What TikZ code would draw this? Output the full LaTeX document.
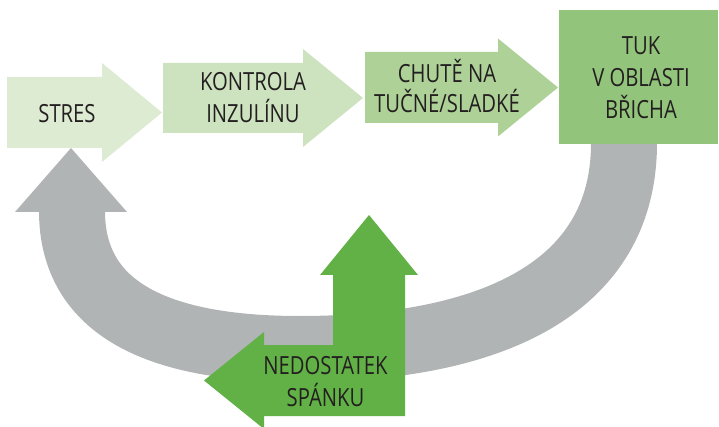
\documentclass[tikz,border=0pt]{standalone}
\usepackage{fontspec}
\setmainfont{Open Sans}[FakeStretch=0.81]
\definecolor{cStres}{HTML}{DEEBD3}
\definecolor{cKontrola}{HTML}{CDE3BF}
\definecolor{cChute}{HTML}{AED197}
\definecolor{cTuk}{HTML}{93C47B}
\definecolor{cSpanek}{HTML}{62B146}
\definecolor{cGray}{HTML}{B1B4B5}
\definecolor{cText}{HTML}{231F20}
\begin{document}
\begin{tikzpicture}[x=1pt,y=-1pt,
  lbl/.style={font=\fontsize{25}{32}\selectfont, align=center, inner sep=0pt, text=cText},
  band/.style={draw=cGray, line width=66pt, line cap=butt}]
\useasboundingbox (0,0) rectangle (719,427);
% grey return arrow
\draw[band] (624,143) .. controls (624,300) and (470,349) .. (300,349)
            .. controls (160,349) and (72,310) .. (72,211);
\fill[cGray] (15,212) -- (71,148) -- (127,212) -- cycle;
% block arrows
\fill[cStres] (7,77) -- (102,77) -- (102,63) -- (162,112.5) -- (102,162) -- (102,148) -- (7,148) -- cycle;
\fill[cKontrola] (163,63) -- (303,63) -- (303,49) -- (363,98) -- (303,147) -- (303,133) -- (163,133) -- cycle;
\fill[cChute] (365,52) -- (498,52) -- (498,38.5) -- (558,87.5) -- (498,136.5) -- (498,123) -- (365,123) -- cycle;
\fill[cTuk] (559,10) rectangle (718,144);
\fill[cSpanek] (405,416) -- (264,416) -- (264,429) -- (204,380.5) -- (264,332) -- (264,345)
   -- (333,345) -- (333,275) -- (320,275) -- (369,215) -- (418,275) -- (405,275) -- cycle;
% labels
\node[lbl] (stres) at (67,113.5) {STRES};
\node[lbl] (kontrola) at (253,97.5) {KONTROLA\\INZULÍNU};
\node[lbl, font=\fontsize{25}{30}\selectfont] (chute) at (447,86) {CHUTĚ NA\\TUČNÉ/SLADKÉ};
\node[lbl] (tuk) at (641,78) {TUK\\V OBLASTI\\BŘICHA};
\node[lbl] (spanek) at (325.5,382) {NEDOSTATEK\\SPÁNKU};
\end{tikzpicture}
\end{document}
